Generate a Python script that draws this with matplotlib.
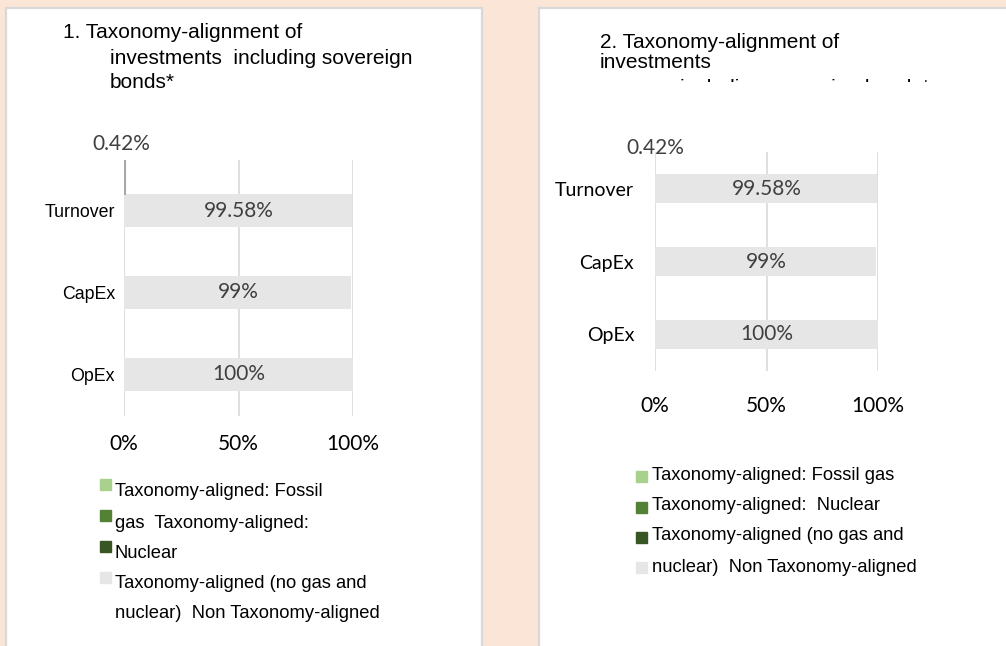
import matplotlib.pyplot as plt
from matplotlib.patches import Rectangle

# data
categories = ["Turnover", "CapEx", "OpEx"]
non_aligned = [99.58, 99, 100]
value_labels = ["99.58%", "99%", "100%"]
aligned_turnover = 0.42
aligned_label = "0.42%"
xticks = [0, 50, 100]
xtick_labels = ["0%", "50%", "100%"]
legend_colors = ["#a9d18e", "#548235", "#375623", "#e7e6e6"]
legend_left_lines = ["Taxonomy-aligned: Fossil", "gas  Taxonomy-aligned:", "Nuclear",
                     "Taxonomy-aligned (no gas and", "nuclear)  Non Taxonomy-aligned"]
legend_right_lines = ["Taxonomy-aligned: Fossil gas", "Taxonomy-aligned:  Nuclear",
                      "Taxonomy-aligned (no gas and", "nuclear)  Non Taxonomy-aligned"]
title_left = ["1. Taxonomy-alignment of", "investments  including sovereign", "bonds*"]
title_right = ["2. Taxonomy-alignment of", "investments", "including sovereign bonds*"]

W, H = 1006, 646
BG = "#fbe5d6"
GRID = "#d9d9d9"
BAR = "#e6e6e6"
VAL = "#404040"
ARIAL = "Liberation Sans"
CALI = "Lato"


def fx(x):
    return x / W


def fy(y):
    return 1 - y / H


def box(x0, y0, x1, y1):
    return [fx(x0), fy(y1), (x1 - x0) / W, (y1 - y0) / H]


fig = plt.figure(figsize=(W / 100, H / 100), dpi=100, facecolor=BG)

# white panels
for x0, x1 in [(6, 482), (539, 1012)]:
    fig.patches.append(Rectangle((fx(x0), fy(660)), (x1 - x0) / W, (660 - 8) / H,
                                 transform=fig.transFigure, facecolor="white",
                                 edgecolor=GRID, lw=1.6, zorder=-2))


def draw_chart(ax, ylim, label_font, ylab_size, ypad, xpad, tiny_bar):
    y = list(range(len(categories)))
    ax.set_facecolor("none")
    ax.barh(y, non_aligned, height=0.40, color=BAR, zorder=2)
    for yi, v, lab in zip(y, non_aligned, value_labels):
        ax.text(50, yi, lab, ha="center", va="center", color=VAL,
                family=CALI, fontsize=15, zorder=3)
    if tiny_bar:
        ax.barh(-0.41, aligned_turnover, height=0.41, color="#a6a6a6",
                edgecolor="#a6a6a6", lw=0.8, zorder=3)
    ax.set_xlim(0, 100)
    ax.set_ylim(*ylim)
    ax.set_xticks(xticks)
    ax.set_xticklabels(xtick_labels, family=CALI, fontsize=15)
    ax.set_yticks(y)
    ax.set_yticklabels(categories, family=label_font, fontsize=ylab_size)
    ax.tick_params(length=0)
    ax.tick_params(axis="y", pad=ypad)
    ax.tick_params(axis="x", pad=xpad)
    for s in ax.spines.values():
        s.set_visible(False)
    ax.grid(axis="x", color=GRID, lw=1.2, zorder=1)
    ax.set_axisbelow(True)


ax1 = fig.add_axes(box(124, 160, 353, 416))
draw_chart(ax1, (2.51, -0.62), ARIAL, 12.8, 6.5, 13, True)
ax1.text(-1, -0.81, aligned_label, ha="center", va="center", color=VAL,
         family=CALI, fontsize=15)

ax2 = fig.add_axes(box(655, 152, 878, 371))
draw_chart(ax2, (2.5, -0.5), CALI, 14, 15, 18, False)
ax2.text(0, -0.55, aligned_label, ha="center", va="center", color=VAL,
         family=CALI, fontsize=15)

# titles
for (x, yc), line in zip([(63, 33), (110, 59), (110, 82)], title_left):
    fig.text(fx(x), fy(yc), line, ha="left", va="center", family=ARIAL, fontsize=15)
for (x, yc), line in zip([(600, 43), (600, 62)], title_right[:2]):
    fig.text(fx(x), fy(yc), line, ha="left", va="center", family=ARIAL, fontsize=15)
clip = Rectangle((fx(540), fy(82)), 400 / W, 20 / H, transform=fig.transFigure)
t = fig.text(fx(680), fy(89), title_right[2], ha="left", va="center",
             family=ARIAL, fontsize=15)
t.set_clip_path(clip)

# legends
for top, c in zip([479, 510, 541, 572], legend_colors):
    fig.patches.append(Rectangle((fx(100), fy(top + 11)), 11 / W, 11 / H,
                                 transform=fig.transFigure, color=c, zorder=1))
for yc, line in zip([492, 523, 553, 583, 613], legend_left_lines):
    fig.text(fx(115), fy(yc), line, ha="left", va="center", family=ARIAL, fontsize=13.2)

for top, c in zip([471, 502, 532, 562], legend_colors):
    fig.patches.append(Rectangle((fx(636), fy(top + 11)), 11 / W, 11 / H,
                                 transform=fig.transFigure, color=c, zorder=1))
for yc, line in zip([476, 505, 536, 567], legend_right_lines):
    fig.text(fx(652), fy(yc), line, ha="left", va="center", family=ARIAL, fontsize=13.2)

fig.savefig("out.png", dpi=100, facecolor=BG)
